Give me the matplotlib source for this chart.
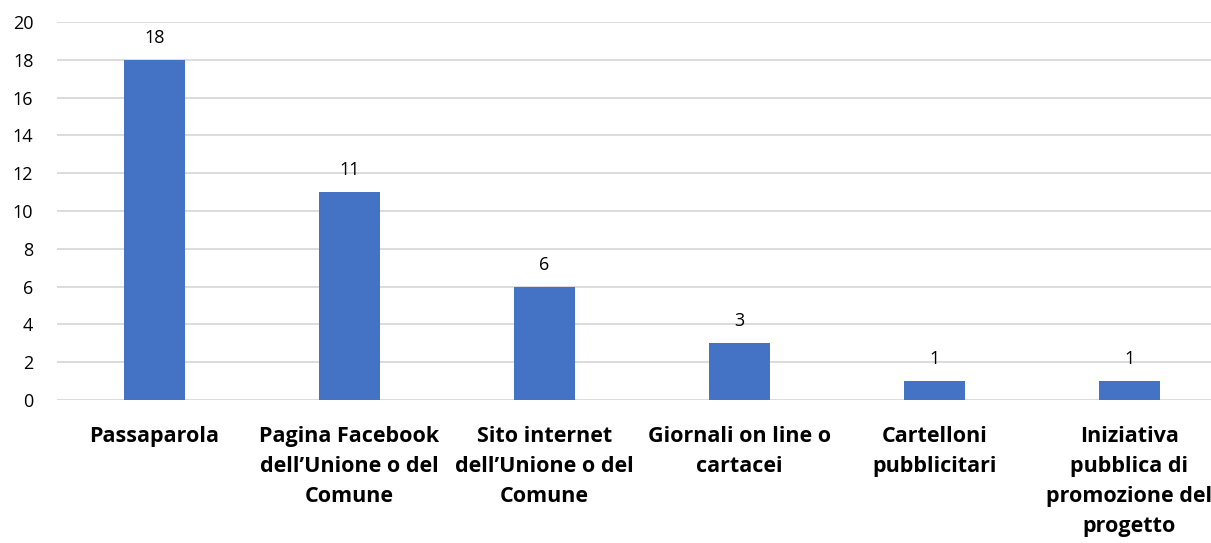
import matplotlib
matplotlib.use("Agg")
import matplotlib.pyplot as plt
import numpy as np

# data
categories = ["Passaparola",
              "Pagina Facebook\ndell\u2019Unione o del\nComune",
              "Sito internet\ndell\u2019Unione o del\nComune",
              "Giornali on line o\ncartacei",
              "Cartelloni\npubblicitari",
              "Iniziativa\npubblica di\npromozione del\nprogetto"]
values = [18, 11, 6, 3, 1, 1]
yticks = [0, 2, 4, 6, 8, 10, 12, 14, 16, 18, 20]

plt.rcParams['font.family'] = ['Open Sans', 'DejaVu Sans']

fig = plt.figure(figsize=(12.11, 5.43), dpi=100)
# the original chart is cut at the right edge, so the axes run to the border
ax = fig.add_axes([57 / 1211, 143 / 543, 1 - 57 / 1211, 378 / 543])

x = np.arange(len(values))
bars = ax.bar(x, values, width=0.31, color='#4472C4', zorder=3)

for xi, v in zip(x, values):
    ax.text(xi, v + 0.9, str(v), ha='center', va='baseline', fontsize=13, color='#000000')

ax.set_xlim(-0.5, -0.5 + 1154 / 195)
ax.set_ylim(0, 20)
ax.set_yticks(yticks)
ax.set_yticklabels([str(t) for t in yticks], fontsize=13)
ax.set_xticks(x)
ax.set_xticklabels(categories, fontsize=15.5, fontweight='bold', linespacing=1.55, va='top')
ax.tick_params(axis='both', length=0)
ax.tick_params(axis='x', pad=19)
ax.tick_params(axis='y', pad=17)

ax.grid(axis='y', color='#d9d9d9', lw=1.3, zorder=0)
for s in ax.spines.values():
    s.set_visible(False)

fig.savefig("out.png", dpi=100)
